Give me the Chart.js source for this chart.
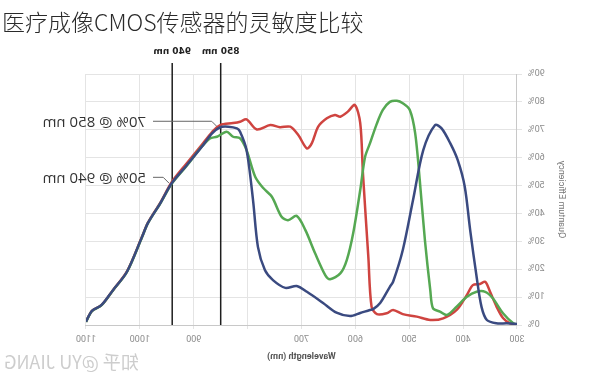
<!DOCTYPE html>
<html>
<head>
<meta charset="utf-8">
<script src="https://cdn.jsdelivr.net/npm/chart.js@4"></script>
<style>
  html, body { margin: 0; padding: 0; background: #fff; }
  #wrap { position: relative; width: 600px; height: 389px; overflow: hidden; }
  #chart { position: absolute; left: 0; top: 0; transform: scaleX(-1); }
  #title {
    position: absolute; left: 2px; top: 4px;
    font-family: "Noto Sans CJK SC", "Noto Sans", sans-serif;
    font-weight: 300; font-size: 23px; color: #2a2a2a; white-space: nowrap;
  }
</style>
</head>
<body>
<div id="wrap">
  <canvas id="chart" width="600" height="389"></canvas>
  <div id="title">医疗成像CMOS传感器的灵敏度比较</div>
</div>
<script>
// wavelength (nm) and quantum efficiency (%)
const blueNm = [300, 319, 338, 356, 366, 375, 387, 397, 410, 424, 440, 452, 474, 493, 512, 530, 536, 554, 567, 573, 591, 610, 635, 660, 690, 709, 730, 753, 768, 781, 790, 802, 814, 820, 836, 851, 866, 885, 913, 941, 962, 985, 996, 1024, 1050, 1071, 1089, 1100];
const blueQe = [0.4, 0.6, 0.6, 1.8, 6.6, 17.3, 34.1, 49.6, 59.1, 65.2, 70.5, 71.7, 62.7, 44.8, 26.9, 15.5, 13.7, 7.9, 5.7, 5.4, 4.3, 3.2, 4.4, 7.9, 11.9, 14.0, 13.3, 16.1, 19.7, 28.1, 44.8, 62.7, 69.3, 70.5, 71.1, 70.9, 68.7, 63.9, 57.3, 50.8, 43.7, 36.6, 31.6, 19.1, 12.5, 7.2, 5.1, 1.2];

const redNm = [300, 313, 326, 338, 350, 359, 369, 382, 393, 412, 437, 461, 486, 512, 530, 542, 560, 570, 576, 586, 591, 601, 614, 628, 638, 653, 669, 681, 690, 706, 721, 740, 758, 783, 802, 814, 827, 851, 866, 885, 913, 941, 962, 985, 996, 1024, 1050, 1071, 1089, 1100];
const redQe = [0.2, 0.6, 2.5, 6.6, 11.9, 15.5, 14.7, 14.3, 10.8, 5.4, 2.4, 1.8, 3.0, 3.9, 5.4, 4.2, 3.9, 6.6, 24.5, 54.5, 72.4, 78.9, 76.5, 74.7, 75.3, 74.1, 71.1, 65.1, 63.3, 68.1, 71.1, 70.9, 71.7, 70.1, 73.7, 72.9, 72.4, 71.7, 69.2, 64.6, 58.0, 51.2, 43.9, 36.7, 31.7, 19.2, 12.5, 7.2, 5.1, 1.2];

const greenNm = [300, 307, 326, 345, 359, 375, 393, 412, 430, 443, 456, 461, 471, 480, 489, 499, 512, 523, 536, 549, 560, 573, 582, 591, 604, 616, 628, 647, 656, 675, 693, 709, 725, 737, 755, 771, 786, 802, 814, 827, 839, 857, 870, 888, 913, 941, 962, 985, 996, 1024, 1050, 1071, 1089, 1100];
const greenQe = [0.2, 0.6, 4.2, 9.6, 11.9, 11.9, 10.1, 6.6, 3.6, 4.8, 6.0, 12.5, 30.5, 50.8, 68.7, 77.1, 79.5, 80.4, 80.0, 77.1, 72.3, 65.1, 60.3, 48.4, 33.0, 23.3, 18.5, 16.4, 17.9, 25.8, 34.1, 39.1, 37.6, 38.8, 46.0, 49.1, 53.2, 62.7, 66.9, 67.5, 69.3, 67.5, 66.9, 63.3, 57.1, 50.6, 43.6, 36.5, 31.5, 19.0, 12.4, 7.1, 5.0, 1.1];

const xTicks = [300, 400, 500, 600, 700, 800, 900, 1000, 1100];
const hiddenXTicks = [800];
const markerNm = [940, 850];
const markerText = ['940 nm', '850 nm'];
const calloutNm = [850, 940];
const calloutQe = [70.9, 50.8];
const calloutText = ['70% @ 850 nm', '50% @ 940 nm'];

const pts = (xs, ys) => xs.map((x, i) => ({ x: x, y: ys[i] }));

const overlay = {
  id: 'overlay',
  beforeDatasetsDraw(chart) {
    const ctx = chart.ctx;
    const xs = chart.scales.x, ys = chart.scales.y;
    ctx.save();
    // wavelength markers
    ctx.strokeStyle = '#1e1e1e';
    ctx.lineWidth = 1.5;
    ctx.fillStyle = '#222';
    ctx.font = 'bold 9px "DejaVu Sans", sans-serif';
    ctx.textAlign = 'center';
    ctx.textBaseline = 'middle';
    markerNm.forEach((nm, i) => {
      const px = xs.getPixelForValue(nm);
      ctx.beginPath();
      ctx.moveTo(px, 63);
      ctx.lineTo(px, ys.bottom);
      ctx.stroke();
      ctx.fillText(markerText[i], px, 52);
    });
    // callouts
    ctx.strokeStyle = '#666';
    ctx.lineWidth = 1;
    ctx.fillStyle = '#333';
    ctx.font = '15px "Open Sans", sans-serif';
    ctx.textAlign = 'left';
    calloutNm.forEach((nm, i) => {
      const px = xs.getPixelForValue(nm);
      const py = ys.getPixelForValue(calloutQe[i]);
      const ty = py - 6;
      ctx.beginPath();
      ctx.moveTo(px + 3, py);
      ctx.lineTo(px + 9, ty);
      ctx.lineTo(447, ty);
      ctx.stroke();
      ctx.fillText(calloutText[i], 454, ty + 1);
    });
    ctx.restore();
  },
  afterDraw(chart) {
    const ctx = chart.ctx;
    ctx.save();
    ctx.fillStyle = '#cdcdcd';
    ctx.font = '18px "Noto Sans CJK SC", sans-serif';
    ctx.textAlign = 'right';
    ctx.textBaseline = 'middle';
    ctx.fillText('知乎 @YU JIANG', 596, 362);
    ctx.restore();
  }
};

const lineStyle = { borderWidth: 2.5, pointRadius: 0, tension: 0.3, fill: false };

new Chart(document.getElementById('chart'), {
  type: 'line',
  data: {
    datasets: [
      Object.assign({ label: 'Blue', data: pts(blueNm, blueQe), borderColor: '#3a4a80' }, lineStyle),
      Object.assign({ label: 'Green', data: pts(greenNm, greenQe), borderColor: '#55a852' }, lineStyle),
      Object.assign({ label: 'Red', data: pts(redNm, redQe), borderColor: '#cf4440' }, lineStyle)
    ]
  },
  options: {
    responsive: false,
    animation: false,
    layout: { padding: { top: 74, right: 86, left: 0, bottom: 0 } },
    plugins: { legend: { display: false }, tooltip: { enabled: false } },
    scales: {
      x: {
        type: 'linear',
        min: 300, max: 1100,
        afterFit(s) { s.height = 64; },
        afterBuildTicks(s) { s.ticks = xTicks.map(v => ({ value: v })); },
        grid: { color: '#e4e4e4', tickLength: 4 },
        border: { color: '#c8c8c8' },
        ticks: {
          color: '#8a8a8a', font: { size: 9, family: 'Roboto' }, padding: 5, maxRotation: 0,
          callback: v => hiddenXTicks.includes(v) ? '' : String(v)
        },
        title: {
          display: true, text: 'Wavelength (nm)', color: '#555',
          font: { size: 9, weight: 'bold', family: 'Roboto' }, padding: { top: 0, bottom: 27 }
        }
      },
      y: {
        min: 0, max: 90,
        afterFit(s) { s.width = 83; },
        grid: { color: '#e4e4e4', tickLength: 5 },
        border: { color: '#c8c8c8' },
        ticks: {
          stepSize: 10, color: '#8a8a8a', font: { size: 9, family: 'Roboto' }, padding: 6,
          callback: v => v + '%'
        },
        title: {
          display: true, text: 'Quantum Efficiency', color: '#777',
          font: { size: 9, family: 'Roboto' }, padding: { top: 33, bottom: 0 }
        }
      }
    }
  },
  plugins: [overlay]
});
</script>
</body>
</html>
